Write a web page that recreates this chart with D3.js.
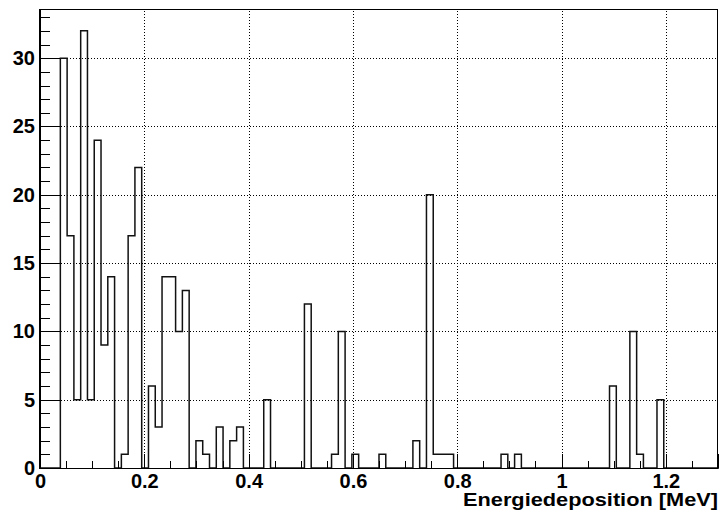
<!DOCTYPE html>
<html>
<head>
<meta charset="utf-8">
<script src="https://cdn.jsdelivr.net/npm/d3@7"></script>
<style>
    body { margin: 0; background: #fff; }
    svg { display: block; }
    text { font-family: "Liberation Sans", Arial, Helvetica, sans-serif; font-weight: bold; fill: #000; }
</style>
</head>
<body>
<script>
// histogram: 100 bins from 0 to 1.3 MeV
const xMin = 0;
const xMax = 1.3;
const counts = [
    0, 0, 0, 30, 17, 5, 32, 5, 24, 9,
    14, 0, 1, 17, 22, 0, 6, 3, 14, 14,
    10, 13, 0, 2, 1, 0, 3, 0, 2, 3,
    0, 0, 0, 5, 0, 0, 0, 0, 0, 12,
    0, 0, 0, 1, 10, 0, 1, 0, 0, 0,
    1, 0, 0, 0, 0, 2, 0, 20, 1, 1,
    1, 0, 0, 0, 0, 0, 0, 0, 1, 0,
    1, 0, 0, 0, 0, 0, 0, 0, 0, 0,
    0, 0, 0, 0, 6, 0, 0, 10, 1, 0,
    0, 5, 0, 0, 0, 0, 0, 0, 0, 0
];
const yMax = 33.6;
const xTicks = [0, 0.2, 0.4, 0.6, 0.8, 1, 1.2];
const yTicks = [0, 5, 10, 15, 20, 25, 30];
const xTitle = "Energiedeposition [MeV]";

const width = 721;
const height = 518;
const marginLeft = 40;
const marginRight = 3;
const marginTop = 9;
const marginBottom = 50;

const svg = d3.select("body")
    .append("svg")
    .attr("width", width)
    .attr("height", height);

const x = d3.scaleLinear()
    .domain([xMin, xMax])
    .range([marginLeft, width - marginRight]);
const y = d3.scaleLinear()
    .domain([0, yMax])
    .range([height - marginBottom, marginTop]);

const binW = (xMax - xMin) / counts.length;

// grid
const grid = svg.append("g")
    .attr("stroke", "#000")
    .attr("stroke-width", 1)
    .attr("stroke-dasharray", "1,2")
    .attr("shape-rendering", "crispEdges");
grid.selectAll(".gx")
    .data(xTicks.filter(d => d > 0))
    .enter().append("line")
    .attr("x1", d => Math.round(x(d)) + 0.5)
    .attr("x2", d => Math.round(x(d)) + 0.5)
    .attr("y1", y(0))
    .attr("y2", y(yMax));
grid.selectAll(".gy")
    .data(yTicks.filter(d => d > 0))
    .enter().append("line")
    .attr("y1", d => Math.round(y(d)) + 0.5)
    .attr("y2", d => Math.round(y(d)) + 0.5)
    .attr("x1", x(xMin))
    .attr("x2", x(xMax));

// histogram outline
const pts = [[xMin, 0]];
counts.forEach((c, i) => {
    pts.push([xMin + i * binW, c]);
    pts.push([xMin + (i + 1) * binW, c]);
});
pts.push([xMax, 0]);

svg.append("path")
    .datum(pts)
    .attr("fill", "none")
    .attr("stroke", "#111")
    .attr("stroke-width", 1.5)
    .attr("d", d3.line().x(d => x(d[0])).y(d => y(d[1])));

// minor ticks
const xMinor = d3.range(0, 1.3001, 0.05).filter(v => xTicks.every(t => Math.abs(t - v) > 1e-6));
const yMinor = d3.range(0, 34, 1).filter(v => v % 5 !== 0);

svg.append("g")
    .attr("transform", "translate(0," + y(0) + ")")
    .call(d3.axisBottom(x).tickValues(xMinor).tickSize(-7).tickFormat(""))
    .call(g => g.select(".domain").remove());
svg.append("g")
    .attr("transform", "translate(" + x(xMin) + ",0)")
    .call(d3.axisLeft(y).tickValues(yMinor).tickSize(-10).tickFormat(""))
    .call(g => g.select(".domain").remove());

// major axes
const xAxis = svg.append("g")
    .attr("transform", "translate(0," + y(0) + ")")
    .call(d3.axisBottom(x).tickValues(xTicks).tickSize(-14).tickPadding(6).tickFormat(d3.format("")));
const yAxis = svg.append("g")
    .attr("transform", "translate(" + x(xMin) + ",0)")
    .call(d3.axisLeft(y).tickValues(yTicks).tickSize(-20).tickPadding(5).tickFormat(d3.format("")));

[xAxis, yAxis].forEach(g => {
    g.selectAll("text")
        .style("font-size", "20px")
        .style("font-family", "'Liberation Sans', Arial, sans-serif")
        .style("font-weight", "bold");
    g.selectAll("line").attr("stroke", "#000");
});

svg.selectAll("g line").attr("shape-rendering", "crispEdges");

// frame
svg.append("rect")
    .attr("x", x(xMin) - 0.5)
    .attr("y", y(yMax) + 0.5)
    .attr("width", x(xMax) - x(xMin))
    .attr("height", y(0) - y(yMax))
    .attr("fill", "none")
    .attr("stroke", "#000")
    .attr("stroke-width", 1)
    .attr("shape-rendering", "crispEdges");

// axis title
svg.append("text")
    .attr("x", x(xMax))
    .attr("y", 506)
    .attr("text-anchor", "end")
    .attr("textLength", 255)
    .attr("lengthAdjust", "spacingAndGlyphs")
    .style("font-size", "19px")
    .text(xTitle);
</script>
</body>
</html>
